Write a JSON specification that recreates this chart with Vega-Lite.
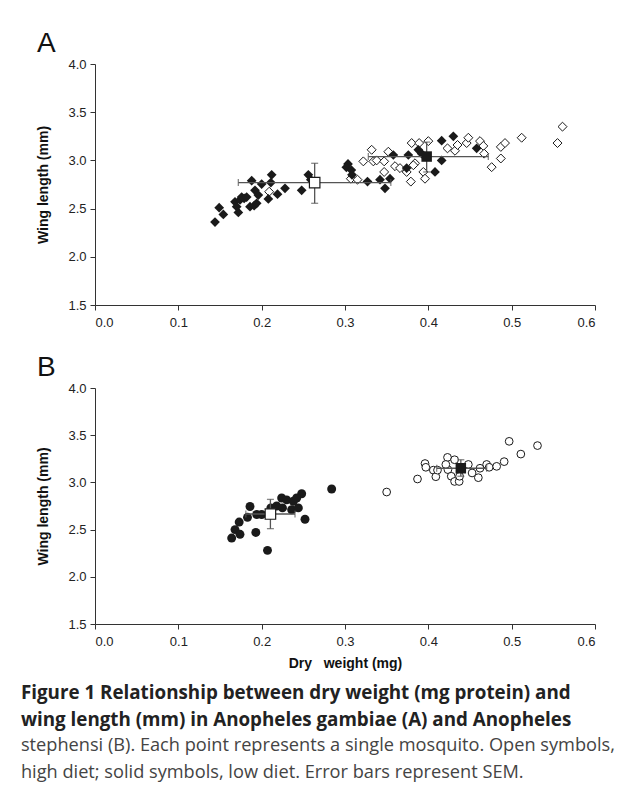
{
  "$schema": "https://vega.github.io/schema/vega-lite/v6.json",
  "padding": {"left": 20, "top": 30, "right": 21, "bottom": 5},
  "config": {
    "font": "Liberation Sans",
    "view": {"stroke": null},
    "axis": {"grid": false, "domainColor": "#333", "tickColor": "#333", "labelColor": "#222", "labelFontSize": 13, "labelFont": "Liberation Sans", "titleFont": "Liberation Sans", "titleFontSize": 14, "titleFontWeight": "bold", "titleColor": "#111", "tickSize": 5},
    "concat": {"spacing": 25}
  },
  "title": {
    "text": ["Figure 1 Relationship between dry weight (mg protein) and", "wing length (mm) in Anopheles gambiae (A) and Anopheles"],
    "subtitle": ["stephensi (B). Each point represents a single mosquito. Open symbols,", "high diet; solid symbols, low diet. Error bars represent SEM."],
    "orient": "bottom", "anchor": "start", "frame": "bounds", "dx": -16, "offset": 14,
    "font": "Open Sans", "fontSize": 18.8, "fontWeight": "bold", "color": "#222", "lineHeight": 26.5,
    "subtitleFont": "Open Sans", "subtitleFontSize": 18.2, "subtitleColor": "#444", "subtitleLineHeight": 26.5, "subtitlePadding": 8
  },
  "datasets": {
    "points": [
      {"panel":"A","diet":"low","weight":0.144,"wing":2.36},{"panel":"A","diet":"low","weight":0.149,"wing":2.51},{"panel":"A","diet":"low","weight":0.154,"wing":2.44},{"panel":"A","diet":"low","weight":0.168,"wing":2.57},{"panel":"A","diet":"low","weight":0.172,"wing":2.46},{"panel":"A","diet":"low","weight":0.170,"wing":2.52},{"panel":"A","diet":"low","weight":0.174,"wing":2.59},{"panel":"A","diet":"low","weight":0.176,"wing":2.62},{"panel":"A","diet":"low","weight":0.179,"wing":2.605},{"panel":"A","diet":"low","weight":0.182,"wing":2.62},{"panel":"A","diet":"low","weight":0.188,"wing":2.79},{"panel":"A","diet":"low","weight":0.186,"wing":2.52},{"panel":"A","diet":"low","weight":0.191,"wing":2.53},{"panel":"A","diet":"low","weight":0.192,"wing":2.69},{"panel":"A","diet":"low","weight":0.194,"wing":2.555},{"panel":"A","diet":"low","weight":0.196,"wing":2.64},{"panel":"A","diet":"low","weight":0.200,"wing":2.755},{"panel":"A","diet":"low","weight":0.208,"wing":2.60},{"panel":"A","diet":"low","weight":0.212,"wing":2.85},{"panel":"A","diet":"low","weight":0.211,"wing":2.77},{"panel":"A","diet":"low","weight":0.219,"wing":2.65},{"panel":"A","diet":"low","weight":0.228,"wing":2.71},{"panel":"A","diet":"low","weight":0.248,"wing":2.69},{"panel":"A","diet":"low","weight":0.256,"wing":2.85},{"panel":"A","diet":"low","weight":0.259,"wing":2.80},
      {"panel":"A","diet":"low","weight":0.3036,"wing":2.963},{"panel":"A","diet":"low","weight":0.3016,"wing":2.928},{"panel":"A","diet":"low","weight":0.3076,"wing":2.90},{"panel":"A","diet":"low","weight":0.3084,"wing":2.85},{"panel":"A","diet":"low","weight":0.327,"wing":2.78},{"panel":"A","diet":"low","weight":0.342,"wing":2.80},{"panel":"A","diet":"low","weight":0.354,"wing":2.81},{"panel":"A","diet":"low","weight":0.348,"wing":2.71},{"panel":"A","diet":"low","weight":0.358,"wing":3.056},{"panel":"A","diet":"low","weight":0.376,"wing":3.056},{"panel":"A","diet":"low","weight":0.374,"wing":2.92},{"panel":"A","diet":"low","weight":0.388,"wing":3.11},{"panel":"A","diet":"low","weight":0.392,"wing":3.07},{"panel":"A","diet":"low","weight":0.416,"wing":3.205},{"panel":"A","diet":"low","weight":0.416,"wing":3.00},{"panel":"A","diet":"low","weight":0.408,"wing":2.88},{"panel":"A","diet":"low","weight":0.430,"wing":3.25},{"panel":"A","diet":"low","weight":0.458,"wing":3.125},
      {"panel":"A","diet":"high","weight":0.209,"wing":2.675},{"panel":"A","diet":"high","weight":0.307,"wing":2.81},{"panel":"A","diet":"high","weight":0.315,"wing":2.80},{"panel":"A","diet":"high","weight":0.322,"wing":2.99},{"panel":"A","diet":"high","weight":0.332,"wing":3.11},{"panel":"A","diet":"high","weight":0.334,"wing":2.99},{"panel":"A","diet":"high","weight":0.338,"wing":3.0},{"panel":"A","diet":"high","weight":0.347,"wing":2.99},{"panel":"A","diet":"high","weight":0.347,"wing":2.88},{"panel":"A","diet":"high","weight":0.352,"wing":3.09},{"panel":"A","diet":"high","weight":0.360,"wing":2.94},{"panel":"A","diet":"high","weight":0.366,"wing":2.92},{"panel":"A","diet":"high","weight":0.374,"wing":2.88},{"panel":"A","diet":"high","weight":0.379,"wing":2.78},{"panel":"A","diet":"high","weight":0.380,"wing":3.18},{"panel":"A","diet":"high","weight":0.384,"wing":2.97},{"panel":"A","diet":"high","weight":0.382,"wing":2.95},{"panel":"A","diet":"high","weight":0.389,"wing":3.18},{"panel":"A","diet":"high","weight":0.394,"wing":2.88},{"panel":"A","diet":"high","weight":0.396,"wing":2.81},{"panel":"A","diet":"high","weight":0.400,"wing":3.20},{"panel":"A","diet":"high","weight":0.423,"wing":3.125},{"panel":"A","diet":"high","weight":0.432,"wing":3.10},{"panel":"A","diet":"high","weight":0.435,"wing":3.16},{"panel":"A","diet":"high","weight":0.446,"wing":3.18},{"panel":"A","diet":"high","weight":0.448,"wing":3.235},{"panel":"A","diet":"high","weight":0.462,"wing":3.20},{"panel":"A","diet":"high","weight":0.466,"wing":3.15},{"panel":"A","diet":"high","weight":0.467,"wing":3.07},{"panel":"A","diet":"high","weight":0.476,"wing":2.93},{"panel":"A","diet":"high","weight":0.487,"wing":3.02},{"panel":"A","diet":"high","weight":0.487,"wing":3.14},{"panel":"A","diet":"high","weight":0.492,"wing":3.18},{"panel":"A","diet":"high","weight":0.512,"wing":3.235},{"panel":"A","diet":"high","weight":0.555,"wing":3.18},{"panel":"A","diet":"high","weight":0.561,"wing":3.35},
      {"panel":"B","diet":"low","weight":0.164,"wing":2.41},{"panel":"B","diet":"low","weight":0.168,"wing":2.50},{"panel":"B","diet":"low","weight":0.174,"wing":2.45},{"panel":"B","diet":"low","weight":0.173,"wing":2.58},{"panel":"B","diet":"low","weight":0.183,"wing":2.63},{"panel":"B","diet":"low","weight":0.186,"wing":2.745},{"panel":"B","diet":"low","weight":0.193,"wing":2.47},{"panel":"B","diet":"low","weight":0.194,"wing":2.66},{"panel":"B","diet":"low","weight":0.200,"wing":2.66},{"panel":"B","diet":"low","weight":0.207,"wing":2.28},{"panel":"B","diet":"low","weight":0.211,"wing":2.73},{"panel":"B","diet":"low","weight":0.218,"wing":2.75},{"panel":"B","diet":"low","weight":0.224,"wing":2.835},{"panel":"B","diet":"low","weight":0.225,"wing":2.73},{"panel":"B","diet":"low","weight":0.230,"wing":2.815},{"panel":"B","diet":"low","weight":0.236,"wing":2.71},{"panel":"B","diet":"low","weight":0.238,"wing":2.80},{"panel":"B","diet":"low","weight":0.244,"wing":2.73},{"panel":"B","diet":"low","weight":0.248,"wing":2.88},{"panel":"B","diet":"low","weight":0.242,"wing":2.835},{"panel":"B","diet":"low","weight":0.252,"wing":2.61},{"panel":"B","diet":"low","weight":0.284,"wing":2.93},
      {"panel":"B","diet":"high","weight":0.350,"wing":2.898},{"panel":"B","diet":"high","weight":0.387,"wing":3.036},{"panel":"B","diet":"high","weight":0.396,"wing":3.20},{"panel":"B","diet":"high","weight":0.397,"wing":3.16},{"panel":"B","diet":"high","weight":0.406,"wing":3.13},{"panel":"B","diet":"high","weight":0.409,"wing":3.06},{"panel":"B","diet":"high","weight":0.411,"wing":3.13},{"panel":"B","diet":"high","weight":0.423,"wing":3.265},{"panel":"B","diet":"high","weight":0.4235,"wing":3.135},{"panel":"B","diet":"high","weight":0.421,"wing":3.19},{"panel":"B","diet":"high","weight":0.4275,"wing":3.065},{"panel":"B","diet":"high","weight":0.4315,"wing":3.01},{"panel":"B","diet":"high","weight":0.437,"wing":3.01},{"panel":"B","diet":"high","weight":0.4375,"wing":3.065},{"panel":"B","diet":"high","weight":0.4315,"wing":3.24},{"panel":"B","diet":"high","weight":0.448,"wing":3.19},{"panel":"B","diet":"high","weight":0.4525,"wing":3.10},{"panel":"B","diet":"high","weight":0.46,"wing":3.05},{"panel":"B","diet":"high","weight":0.462,"wing":3.15},{"panel":"B","diet":"high","weight":0.470,"wing":3.19},{"panel":"B","diet":"high","weight":0.473,"wing":3.16},{"panel":"B","diet":"high","weight":0.482,"wing":3.17},{"panel":"B","diet":"high","weight":0.491,"wing":3.22},{"panel":"B","diet":"high","weight":0.497,"wing":3.435},{"panel":"B","diet":"high","weight":0.511,"wing":3.30},{"panel":"B","diet":"high","weight":0.531,"wing":3.39}
    ],
    "means": [
      {"panel":"A","diet":"high","weight":0.2636,"wing":2.77,"wlo":0.172,"whi":0.355,"llo":2.555,"lhi":2.97},
      {"panel":"A","diet":"low","weight":0.398,"wing":3.04,"wlo":0.328,"whi":0.472,"llo":2.88,"lhi":3.19},
      {"panel":"B","diet":"high","weight":0.2105,"wing":2.665,"wlo":0.181,"whi":0.240,"llo":2.51,"lhi":2.82},
      {"panel":"B","diet":"low","weight":0.439,"wing":3.15,"wlo":0.41,"whi":0.47,"llo":3.065,"lhi":3.24}
    ]
  },
  "vconcat": [
    {
      "title": {"text": "A", "anchor": "start", "frame": "bounds", "fontSize": 28, "fontWeight": "normal", "font": "Liberation Sans", "color": "#111", "offset": 0},
      "width": 500, "height": 241,
      "layer": [
        {"data": {"name": "points"}, "transform": [{"filter": "datum.panel === 'A' && datum.diet === 'high'"}],
         "mark": {"type": "point", "shape": "diamond", "filled": true, "fill": "white", "stroke": "#1a1a1a", "strokeWidth": 1, "size": 80, "opacity": 1},
         "encoding": {
           "x": {"field": "weight", "type": "quantitative", "title": null, "scale": {"domain": [0, 0.6], "nice": false}, "axis": {"values": [0, 0.1, 0.2, 0.3, 0.4, 0.5, 0.6], "format": ".1f", "labelPadding": 6}},
           "y": {"field": "wing", "type": "quantitative", "title": "Wing length (mm)", "scale": {"domain": [1.5, 4.0], "nice": false, "zero": false}, "axis": {"values": [1.5, 2, 2.5, 3, 3.5, 4], "format": ".1f", "labelPadding": 4, "titlePadding": 17}}
         }},
        {"data": {"name": "points"}, "transform": [{"filter": "datum.panel === 'A' && datum.diet === 'low'"}],
         "mark": {"type": "point", "shape": "diamond", "filled": true, "color": "#1a1a1a", "size": 95, "opacity": 1},
         "encoding": {
           "x": {"field": "weight", "type": "quantitative", "title": null},
           "y": {"field": "wing", "type": "quantitative", "title": "Wing length (mm)"}
         }},
        {"data": {"name": "means"}, "transform": [{"filter": "datum.panel === 'A'"}],
         "mark": {"type": "errorbar", "ticks": {"size": 7}, "color": "#555", "thickness": 1.3},
         "encoding": {
           "x": {"field": "wlo", "type": "quantitative", "title": null},
           "x2": {"field": "whi"},
           "y": {"field": "wing", "type": "quantitative", "title": "Wing length (mm)"}
         }},
        {"data": {"name": "means"}, "transform": [{"filter": "datum.panel === 'A'"}],
         "mark": {"type": "errorbar", "ticks": {"size": 7}, "color": "#555", "thickness": 1.3},
         "encoding": {
           "y": {"field": "llo", "type": "quantitative", "title": "Wing length (mm)"},
           "y2": {"field": "lhi"},
           "x": {"field": "weight", "type": "quantitative", "title": null}
         }},
        {"data": {"name": "means"}, "transform": [{"filter": "datum.panel === 'A' && datum.diet === 'high'"}],
         "mark": {"type": "point", "shape": "square", "filled": true, "fill": "white", "stroke": "#1a1a1a", "strokeWidth": 1.2, "size": 110, "opacity": 1},
         "encoding": {
           "x": {"field": "weight", "type": "quantitative", "title": null},
           "y": {"field": "wing", "type": "quantitative", "title": "Wing length (mm)"}
         }},
        {"data": {"name": "means"}, "transform": [{"filter": "datum.panel === 'A' && datum.diet === 'low'"}],
         "mark": {"type": "point", "shape": "square", "filled": true, "color": "#1a1a1a", "size": 110, "opacity": 1},
         "encoding": {
           "x": {"field": "weight", "type": "quantitative", "title": null},
           "y": {"field": "wing", "type": "quantitative", "title": "Wing length (mm)"}
         }}
      ]
    },
    {
      "title": {"text": "B", "anchor": "start", "frame": "bounds", "fontSize": 28, "fontWeight": "normal", "font": "Liberation Sans", "color": "#111", "offset": 0},
      "width": 500, "height": 236,
      "layer": [
        {"data": {"name": "points"}, "transform": [{"filter": "datum.panel === 'B' && datum.diet === 'high'"}],
         "mark": {"type": "point", "shape": "circle", "filled": true, "fill": "white", "stroke": "#1a1a1a", "strokeWidth": 1, "size": 60, "opacity": 1},
         "encoding": {
           "x": {"field": "weight", "type": "quantitative", "title": "Dry\u00a0\u00a0\u00a0weight (mg)", "scale": {"domain": [0, 0.6], "nice": false}, "axis": {"values": [0, 0.1, 0.2, 0.3, 0.4, 0.5, 0.6], "format": ".1f", "labelPadding": 6, "titlePadding": 8}},
           "y": {"field": "wing", "type": "quantitative", "title": "Wing length (mm)", "scale": {"domain": [1.5, 4.0], "nice": false, "zero": false}, "axis": {"values": [1.5, 2, 2.5, 3, 3.5, 4], "format": ".1f", "labelPadding": 4, "titlePadding": 17}}
         }},
        {"data": {"name": "points"}, "transform": [{"filter": "datum.panel === 'B' && datum.diet === 'low'"}],
         "mark": {"type": "point", "shape": "circle", "filled": true, "color": "#1a1a1a", "size": 80, "opacity": 1},
         "encoding": {
           "x": {"field": "weight", "type": "quantitative", "title": "Dry\u00a0\u00a0\u00a0weight (mg)"},
           "y": {"field": "wing", "type": "quantitative", "title": "Wing length (mm)"}
         }},
        {"data": {"name": "means"}, "transform": [{"filter": "datum.panel === 'B'"}],
         "mark": {"type": "errorbar", "ticks": {"size": 7}, "color": "#555", "thickness": 1.3},
         "encoding": {
           "x": {"field": "wlo", "type": "quantitative", "title": "Dry\u00a0\u00a0\u00a0weight (mg)"},
           "x2": {"field": "whi"},
           "y": {"field": "wing", "type": "quantitative", "title": "Wing length (mm)"}
         }},
        {"data": {"name": "means"}, "transform": [{"filter": "datum.panel === 'B'"}],
         "mark": {"type": "errorbar", "ticks": {"size": 7}, "color": "#555", "thickness": 1.3},
         "encoding": {
           "y": {"field": "llo", "type": "quantitative", "title": "Wing length (mm)"},
           "y2": {"field": "lhi"},
           "x": {"field": "weight", "type": "quantitative", "title": "Dry\u00a0\u00a0\u00a0weight (mg)"}
         }},
        {"data": {"name": "means"}, "transform": [{"filter": "datum.panel === 'B' && datum.diet === 'high'"}],
         "mark": {"type": "point", "shape": "square", "filled": true, "fill": "white", "stroke": "#1a1a1a", "strokeWidth": 1.2, "size": 110, "opacity": 1},
         "encoding": {
           "x": {"field": "weight", "type": "quantitative", "title": "Dry\u00a0\u00a0\u00a0weight (mg)"},
           "y": {"field": "wing", "type": "quantitative", "title": "Wing length (mm)"}
         }},
        {"data": {"name": "means"}, "transform": [{"filter": "datum.panel === 'B' && datum.diet === 'low'"}],
         "mark": {"type": "point", "shape": "square", "filled": true, "color": "#1a1a1a", "size": 110, "opacity": 1},
         "encoding": {
           "x": {"field": "weight", "type": "quantitative", "title": "Dry\u00a0\u00a0\u00a0weight (mg)"},
           "y": {"field": "wing", "type": "quantitative", "title": "Wing length (mm)"}
         }}
      ]
    }
  ]
}
